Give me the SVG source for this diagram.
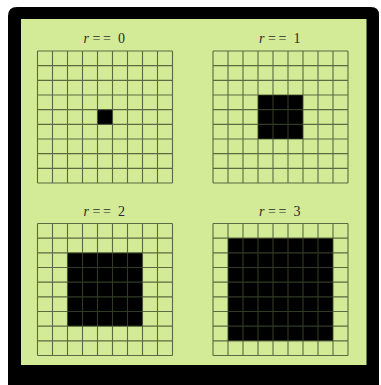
<svg xmlns="http://www.w3.org/2000/svg" xmlns:xlink="http://www.w3.org/1999/xlink" width="381" height="385" viewBox="0 0 381 385">
  <style>
    .lbl { font-family: "Liberation Serif", "Times New Roman", serif; font-size: 14px; fill: #2a2a2a; }
    .it { font-style: italic; }
    .gl { stroke: #3d4a2c; stroke-width: 1.1; stroke-opacity: 0.8; fill: none; }
    .blk { fill: #000; }
  </style>
  <defs>
    <g id="grid">
      <path class="gl" d="M0,0V132M15,0V132M30,0V132M45,0V132M60,0V132M75,0V132M90,0V132M105,0V132M120,0V132M135,0V132
        M0,0H135M0,14.67H135M0,29.33H135M0,44H135M0,58.67H135M0,73.33H135M0,88H135M0,102.67H135M0,117.33H135M0,132H135"/>
    </g>
  </defs>
  <path d="M8,16 Q8,7 17,7 H371 Q379,7 379,15 V385 H8 Z" fill="#000"/>
  <rect x="21" y="19" width="345.5" height="346" fill="#d3eb97"/>

  <g id="panel-r0">
    <text class="lbl" y="43"><tspan class="it" x="83.5">r</tspan><tspan x="92.5">=</tspan><tspan x="103">=</tspan><tspan x="118">0</tspan></text>
    <g transform="translate(37.5,51)">
      <rect class="blk" x="60" y="58.67" width="15" height="14.67"/>
      <use xlink:href="#grid"/>
    </g>
  </g>
  <g id="panel-r1">
    <text class="lbl" y="43"><tspan class="it" x="259">r</tspan><tspan x="268">=</tspan><tspan x="278.5">=</tspan><tspan x="293.5">1</tspan></text>
    <g transform="translate(213,51)">
      <rect class="blk" x="45" y="44" width="45" height="44"/>
      <use xlink:href="#grid"/>
    </g>
  </g>
  <g id="panel-r2">
    <text class="lbl" y="215.5"><tspan class="it" x="83.5">r</tspan><tspan x="92.5">=</tspan><tspan x="103">=</tspan><tspan x="118">2</tspan></text>
    <g transform="translate(37.5,223.5)">
      <rect class="blk" x="30" y="29.33" width="75" height="73.34"/>
      <use xlink:href="#grid"/>
    </g>
  </g>
  <g id="panel-r3">
    <text class="lbl" y="215.5"><tspan class="it" x="259">r</tspan><tspan x="268">=</tspan><tspan x="278.5">=</tspan><tspan x="293.5">3</tspan></text>
    <g transform="translate(213,223.5)">
      <rect class="blk" x="15" y="14.67" width="105" height="102.66"/>
      <use xlink:href="#grid"/>
    </g>
  </g>
  <g id="connectors"/>
</svg>
